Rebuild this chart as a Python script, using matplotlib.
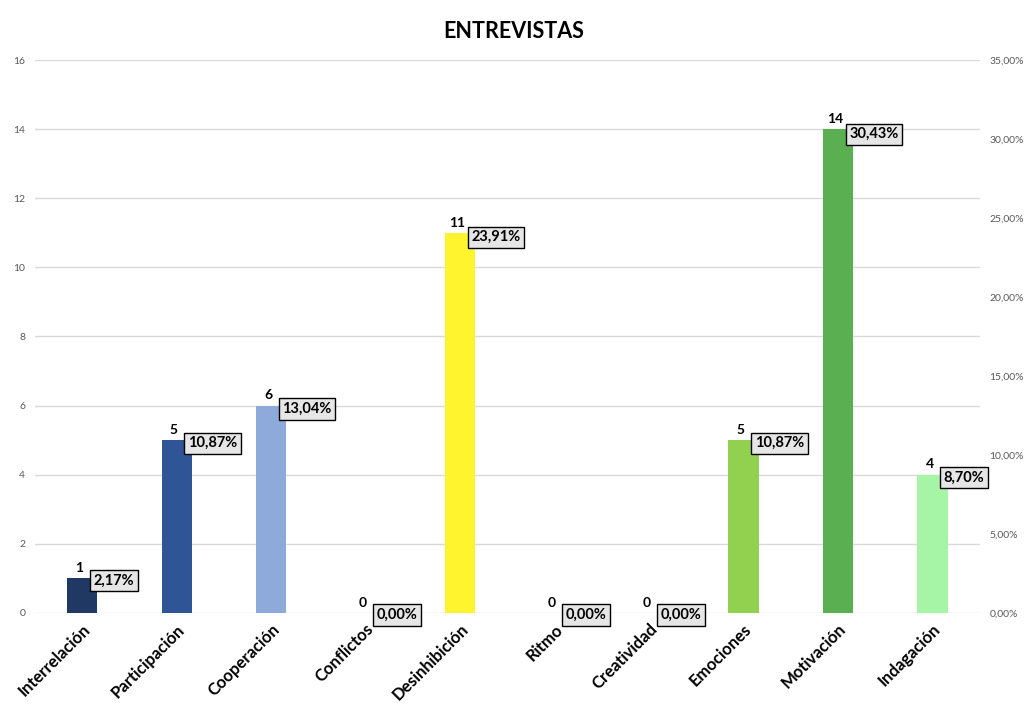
import matplotlib

matplotlib.use("Agg")
import matplotlib.pyplot as plt
from matplotlib.ticker import FuncFormatter

plt.rcParams["font.family"] = ["Lato", "DejaVu Sans"]

categories = ["Interrelación", "Participación", "Cooperación", "Conflictos", "Desinhibición",
              "Ritmo", "Creatividad", "Emociones", "Motivación", "Indagación"]
counts = [1, 5, 6, 0, 11, 0, 0, 5, 14, 4]
percents = [2.17, 10.87, 13.04, 0.00, 23.91, 0.00, 0.00, 10.87, 30.43, 8.70]
colors = ["#203864", "#2f5597", "#8eaadb", "#a5a5a5", "#fff42e",
          "#a5a5a5", "#a5a5a5", "#92d050", "#5aaf50", "#a6f5a6"]

fig = plt.figure(figsize=(10.27, 7.06), dpi=100)
ax = fig.add_axes([0.034, 0.132, 0.920, 0.783])
x = list(range(len(categories)))
bar_w = 0.32

ax.bar(x, counts, width=bar_w, color=colors, zorder=3)
ax.set_xlim(-0.5, len(categories) - 0.5)
ax.set_ylim(0, 16)
ax.set_yticks(range(0, 17, 2))
ax.grid(axis="y", color="#d9d9d9", linewidth=1, zorder=0)
for s in ax.spines.values():
    s.set_visible(False)
ax.tick_params(axis="y", length=0, labelsize=7.5, labelcolor="#595959", pad=7)
ax.tick_params(axis="x", length=0, pad=6)
ax.set_xticks(x)
ax.set_xticklabels(categories, rotation=45, ha="right", rotation_mode="anchor",
                   fontsize=12, fontweight="bold")

# count labels above the bars
for i, c in enumerate(counts):
    ax.annotate(str(c), (i - 0.03, c), xytext=(0, 3), textcoords="offset points",
                ha="center", va="bottom", fontsize=10, fontweight="bold", zorder=5)

# percentages live on the secondary axis
ax2 = ax.twinx()
ax2.set_ylim(0, 0.35)
ax2.set_yticks([k * 0.05 for k in range(8)])
ax2.yaxis.set_major_formatter(FuncFormatter(lambda v, _: f"{v * 100:.2f}%".replace(".", ",")))
ax2.tick_params(axis="y", length=0, labelsize=7.5, labelcolor="#595959", pad=7)
for s in ax2.spines.values():
    s.set_visible(False)

for i, p in enumerate(percents):
    ax2.annotate(f"{p:.2f}%".replace(".", ","), (i + 0.075, p / 100), xytext=(3, -1.5),
                 textcoords="offset points", ha="left", va="center",
                 fontsize=10.5, fontweight="bold", zorder=6,
                 bbox=dict(boxstyle="square,pad=0.25", fc="#e7e6e6", ec="black", lw=1))

fig.suptitle("ENTREVISTAS", y=0.97, fontsize=15.5, fontweight="bold")

fig.savefig("out.png", dpi=100)
plt.close(fig)
